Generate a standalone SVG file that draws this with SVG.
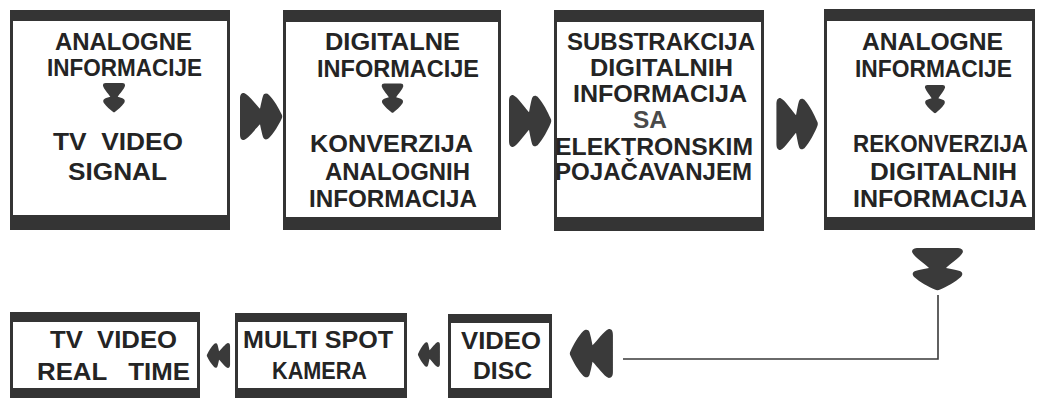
<svg xmlns="http://www.w3.org/2000/svg" xmlns:xlink="http://www.w3.org/1999/xlink" width="1041" height="398" viewBox="0 0 1041 398">
  <style>
    .frame { fill: #343434; }
    .inner { fill: #ffffff; }
    .t { font-family: "Liberation Sans", Arial, sans-serif; font-weight: bold; font-size: 23.5px; fill: #242424; }
    .sa { fill: #4a4a4a; }
    .arr { fill: #3a3a3a; }
    .conn { fill: none; stroke: #3a3a3a; stroke-width: 1.6; }
  </style>
  <defs>
    <path id="dbl" d="M -17,-24 C -20,-24 -21,-22 -21,-18 L -21,18 C -21,22 -20,24 -17,24 C -12,22 -6,13 -1,8 C 0,13 1,18 2,21 C 3,24 6,24 8,22 C 13,17 18,8 20.5,2.5 C 21.5,1 21.5,-1 20.5,-2.5 C 18,-8 13,-17 8,-22 C 6,-24 3,-24 2,-21 C 1,-18 0,-13 -1,-8 C -6,-13 -12,-22 -17,-24 Z"/>
  </defs>
  <rect width="1041" height="398" fill="#ffffff"/>

  <g id="node-analogne-tv">
    <rect class="frame" x="10" y="10" width="220" height="220"/>
    <rect class="inner" x="13" y="21" width="214" height="194"/>
    <text class="t" x="55" y="50" textLength="137" lengthAdjust="spacingAndGlyphs">ANALOGNE</text>
    <text class="t" x="47" y="76" textLength="155" lengthAdjust="spacingAndGlyphs">INFORMACIJE</text>
    <use href="#dbl" class="arr" transform="translate(114,97.5) rotate(90) scale(0.69,0.46)"/>
    <text class="t" x="53" y="150" textLength="130" lengthAdjust="spacingAndGlyphs" xml:space="preserve">TV  VIDEO</text>
    <text class="t" x="68" y="180" textLength="99" lengthAdjust="spacingAndGlyphs">SIGNAL</text>
  </g>

  <g id="node-digitalne">
    <rect class="frame" x="283" y="10" width="218" height="220"/>
    <rect class="inner" x="286" y="22" width="212" height="195"/>
    <text class="t" x="325" y="50" textLength="135" lengthAdjust="spacingAndGlyphs">DIGITALNE</text>
    <text class="t" x="317" y="77" textLength="162" lengthAdjust="spacingAndGlyphs">INFORMACIJE</text>
    <use href="#dbl" class="arr" transform="translate(392.5,98) rotate(90) scale(0.69,0.45)"/>
    <text class="t" x="310" y="152" textLength="163" lengthAdjust="spacingAndGlyphs">KONVERZIJA</text>
    <text class="t" x="325" y="180" textLength="145" lengthAdjust="spacingAndGlyphs">ANALOGNIH</text>
    <text class="t" x="309" y="207" textLength="168" lengthAdjust="spacingAndGlyphs">INFORMACIJA</text>
  </g>

  <g id="node-substrakcija">
    <rect class="frame" x="554" y="10" width="210" height="221"/>
    <rect class="inner" x="557" y="22" width="204" height="195"/>
    <text class="t" x="567" y="50" textLength="188" lengthAdjust="spacingAndGlyphs">SUBSTRAKCIJA</text>
    <text class="t" x="590" y="76" textLength="143" lengthAdjust="spacingAndGlyphs">DIGITALNIH</text>
    <text class="t" x="573" y="102" textLength="174" lengthAdjust="spacingAndGlyphs">INFORMACIJA</text>
    <text class="t sa" x="633" y="128" textLength="34" lengthAdjust="spacingAndGlyphs">SA</text>
    <text class="t" x="555" y="155" textLength="198" lengthAdjust="spacingAndGlyphs">ELEKTRONSKIM</text>
    <text class="t" x="555" y="180" textLength="197" lengthAdjust="spacingAndGlyphs">POJAČAVANJEM</text>
  </g>

  <g id="node-rekonverzija">
    <rect class="frame" x="824" y="9" width="211" height="221"/>
    <rect class="inner" x="827" y="21" width="205" height="196"/>
    <text class="t" x="862" y="50" textLength="141" lengthAdjust="spacingAndGlyphs">ANALOGNE</text>
    <text class="t" x="855" y="77" textLength="157" lengthAdjust="spacingAndGlyphs">INFORMACIJE</text>
    <use href="#dbl" class="arr" transform="translate(935,99) rotate(90) scale(0.67,0.42)"/>
    <text class="t" x="853" y="152" textLength="175" lengthAdjust="spacingAndGlyphs">REKONVERZIJA</text>
    <text class="t" x="870" y="180" textLength="147" lengthAdjust="spacingAndGlyphs">DIGITALNIH</text>
    <text class="t" x="853" y="207" textLength="174" lengthAdjust="spacingAndGlyphs">INFORMACIJA</text>
  </g>

  <g id="node-video-disc">
    <rect class="frame" x="448" y="314" width="104" height="90"/>
    <rect class="inner" x="451" y="323" width="98" height="65"/>
    <text class="t" x="461" y="349" textLength="80" lengthAdjust="spacingAndGlyphs">VIDEO</text>
    <text class="t" x="473" y="379" textLength="59" lengthAdjust="spacingAndGlyphs">DISC</text>
  </g>

  <g id="node-multi-spot">
    <rect class="frame" x="235" y="313" width="172" height="90"/>
    <rect class="inner" x="238" y="322" width="166" height="66"/>
    <text class="t" x="243" y="348" textLength="150" lengthAdjust="spacingAndGlyphs">MULTI SPOT</text>
    <text class="t" x="272" y="379" textLength="95" lengthAdjust="spacingAndGlyphs">KAMERA</text>
  </g>

  <g id="node-tv-real-time">
    <rect class="frame" x="10" y="312" width="190" height="90"/>
    <rect class="inner" x="13" y="322" width="184" height="66"/>
    <text class="t" x="50" y="348" textLength="127" lengthAdjust="spacingAndGlyphs" xml:space="preserve">TV  VIDEO</text>
    <text class="t" x="37" y="380" textLength="153" lengthAdjust="spacingAndGlyphs" xml:space="preserve">REAL   TIME</text>
  </g>

  <g id="connectors">
    <use href="#dbl" class="arr" transform="translate(261,116.5) scale(1,0.98)"/>
    <use href="#dbl" class="arr" transform="translate(530,121) scale(1,1.08)"/>
    <use href="#dbl" class="arr" transform="translate(797,124) scale(0.98,1.08)"/>
    <use href="#dbl" class="arr" transform="translate(937.5,269) rotate(90) scale(1,1.06)"/>
    <polyline class="conn" points="938,295 938,359 623,359"/>
    <use href="#dbl" class="arr" transform="translate(591.5,353.5) scale(-1.02,1.02)"/>
    <use href="#dbl" class="arr" transform="translate(429,354.5) scale(-0.52,0.52)"/>
    <use href="#dbl" class="arr" transform="translate(218.5,355.5) scale(-0.55,0.52)"/>
  </g>
</svg>
